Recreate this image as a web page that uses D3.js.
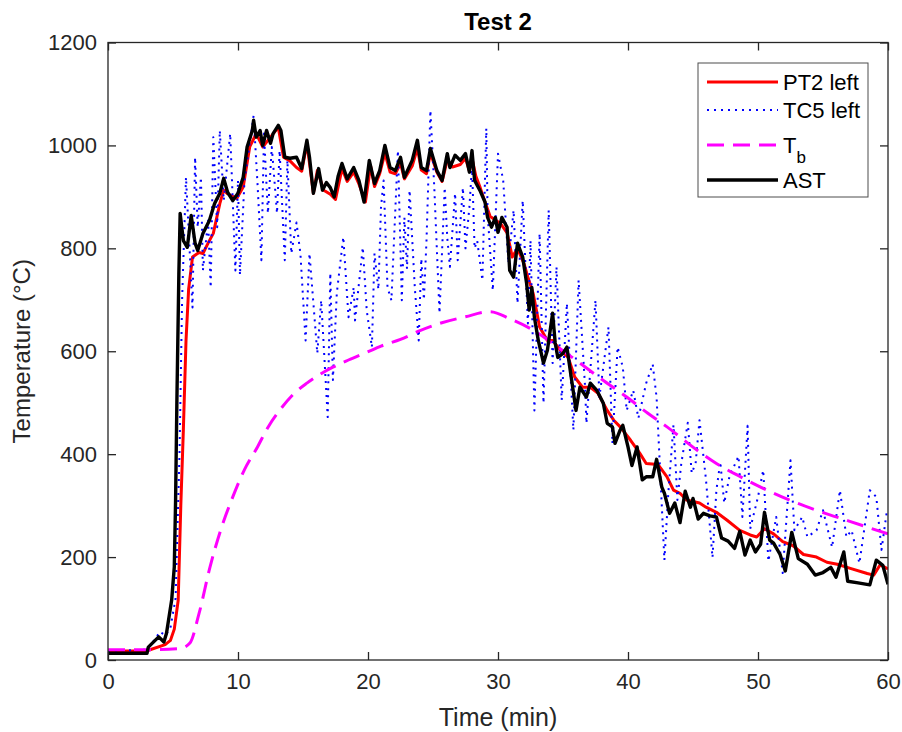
<!DOCTYPE html>
<html>
<head>
<meta charset="utf-8">
<script src="https://cdn.jsdelivr.net/npm/d3@7"></script>
<style>
  html, body { margin: 0; padding: 0; background: #fff; }
  svg { display: block; font-family: Arial, "Liberation Sans", Helvetica, sans-serif; }
</style>
</head>
<body>
<svg id="chart" width="902" height="732"></svg>
<script>
// Test 2: measured temperatures against time
const pt2Time = [0, 3, 4.4, 4.8, 5.1, 5.4, 5.6, 5.8, 6.0, 6.2, 6.5, 7.0, 7.3, 7.7, 8.1, 8.6, 8.9, 9.2, 9.9, 10.4,
  10.9, 11.4, 11.9, 12.5, 13.1, 13.5, 14.0, 14.5, 14.9, 15.3, 15.8, 16.1, 16.6, 17.1, 17.5, 18.0, 18.4, 18.9, 19.3, 19.8,
  20.2, 20.5, 20.9, 21.3, 21.7, 22.1, 22.5, 22.8, 23.4, 23.8, 24.1, 24.5, 24.8, 25.3, 25.7, 26.1, 26.5, 27.1, 27.5, 27.8,
  28.0, 28.3, 28.6, 29.0, 29.4, 29.8, 30.2, 30.7, 31.1, 31.5, 32.0, 32.3, 32.7, 33.2, 33.8, 34.2, 34.8, 35.4, 35.9, 36.5,
  37.1, 37.7, 38.4, 38.9, 39.4, 40.2, 40.9, 41.4, 42.3, 43.0, 43.5, 44.0, 44.5, 45.5, 46.0, 46.8, 47.6, 48.6, 49.4, 49.9,
  50.5, 51.2, 51.9, 52.7, 53.5, 54.5, 55.3, 56.1, 57.1, 58.4, 58.9, 59.4, 60];
const pt2Temp = [17, 18, 30, 38, 60, 116, 300, 450, 620, 720, 783, 792, 790, 810, 829, 887, 913, 906, 897, 919,
  997, 1023, 997, 1016, 1035, 977, 970, 957, 950, 1004, 907, 951, 913, 905, 895, 955, 930, 948, 925, 890,
  960, 920, 945, 985, 948, 945, 965, 935, 960, 995, 952, 945, 985, 948, 930, 972, 958, 963, 975, 950,
  975, 940, 920, 890, 862, 855, 848, 830, 783, 800, 770, 744, 713, 647, 621, 621, 602, 588, 550, 530,
  530, 518, 485, 466, 453, 427, 402, 382, 380, 356, 330, 324, 311, 305, 297, 287, 272, 252, 243, 239,
  255, 245, 230, 222, 205, 200, 190, 186, 178, 168, 165, 185, 177];

const tc5Time = [0, 3.0, 3.6, 4.0, 4.4, 4.8, 5.2, 5.5, 5.7, 6.0, 6.5, 6.7, 6.9, 7.15, 7.3, 7.7, 7.9, 8.1, 8.4, 8.6,
  8.9, 9.4, 9.8, 10.0, 10.15, 10.5, 11.2, 11.5, 11.8, 12.0, 12.3, 12.6, 13.0, 13.2, 13.6, 13.8, 14.1, 14.5, 14.8, 15.2,
  15.5, 16.1, 16.4, 16.9, 17.1, 17.3, 17.6, 18.1, 18.5, 18.9, 19.0, 19.6, 19.9, 20.3, 20.5, 20.8, 21.0, 21.2, 21.5, 21.8,
  22.3, 22.6, 22.8, 23.0, 23.2, 23.6, 23.9, 24.1, 24.3, 24.5, 24.8, 25.1, 25.5, 25.9, 26.1, 26.3, 26.7, 26.9, 27.3, 27.5,
  27.8, 28.0, 28.2, 28.4, 28.8, 29.1, 29.2, 29.6, 30.0, 30.4,
  30.8, 31.2, 31.5, 31.9, 32.3, 32.5, 32.8, 33.2, 33.5, 33.9, 34.2, 34.5, 34.9, 35.3, 35.8, 36.2, 36.7, 36.8, 37.5, 37.8,
  38.5, 38.8, 39.2, 39.6, 39.9, 40.4, 40.8, 41.4, 41.9, 42.2, 42.8, 43.1, 43.5, 43.8, 44.1, 44.6, 44.9, 45.2, 45.5, 46.0,
  46.5, 46.8, 47.1, 47.4, 47.8, 48.5, 48.8, 49.2, 49.4, 50.0, 50.4, 50.8, 51.4, 51.9, 52.5, 52.8, 53.4, 53.8, 54.5, 55.0,
  55.7, 56.3, 56.8, 57.2, 57.8, 58.6, 59.1, 59.5, 59.9, 60];
const tc5Temp = [18, 20, 40, 55, 48, 62, 120, 400, 700, 938, 685, 977, 841, 938, 757, 854, 724, 1016, 841, 1029,
  893, 1023, 757, 932, 748, 932, 1058, 926, 777, 1023, 868, 997, 868, 990, 777, 971, 790, 850, 790, 621,
  790, 596, 699, 472, 752, 544, 713, 822, 666, 724, 660, 802, 680, 608, 790, 720, 880, 932, 724, 699,
  990, 699, 860, 760, 913, 724, 621, 780, 700, 815, 1068, 918, 674, 918, 820, 764, 907, 777, 918, 800,
  880, 960, 800, 815, 738, 1033, 868, 718, 984, 932,
  771, 874, 693, 893, 654, 815, 485, 829, 499, 874, 577, 764, 505, 693, 447, 738, 530, 460, 699, 511,
  647, 421, 608, 569, 485, 524, 470, 538, 575, 510, 194, 324, 457, 311, 382, 461, 363, 382, 466, 350,
  199, 330, 385, 305, 356, 396, 278, 455, 255, 317, 369, 192, 278, 169, 388, 252, 278, 239, 252, 291,
  219, 330, 239, 252, 188, 330, 317, 214, 287, 280];

const tbTime = [0, 3, 5.5, 6.3, 7, 7.85, 8.7, 9.6, 10.5, 11.5, 12.3, 13.2, 14.2, 15.3, 16.3, 17.3, 18.5, 19.9, 21, 22.5,
  24, 25.5, 27.5, 29.4, 31, 32.7, 34.5, 36.3, 38, 39.9, 41.5, 43, 45.3, 46.8, 48.5, 50.2, 52.3, 54.5, 57, 60];
const tbTemp = [20, 20, 22, 33, 90, 181, 255, 317, 370, 414, 452, 485, 515, 538, 555, 569, 583, 598, 610, 623,
  640, 654, 667, 677, 662, 641, 610, 577, 545, 511, 480, 453, 408, 382, 358, 336, 312, 291, 270, 245];

const astTime = [0, 3.0, 3.1, 3.9, 4.3, 4.5, 4.9, 5.1, 5.2, 5.3, 5.45, 5.55, 5.8, 6.1, 6.4, 6.7, 6.9, 7.3, 7.8, 8.2,
  8.6, 8.9, 9.2, 9.6, 10.0, 10.4, 10.7, 11.1, 11.2, 11.4, 11.7, 11.9, 12.2, 12.5, 12.7, 13.1, 13.3, 13.6, 14.0, 14.5,
  14.9, 15.3, 15.5, 15.8, 16.2, 16.5, 16.8, 17.1, 17.4, 17.7, 18.0, 18.4, 18.9, 19.3, 19.7, 20.1, 20.5, 20.9, 21.3, 21.7,
  22.1, 22.5, 22.8, 23.4, 23.8, 24.1, 24.5, 24.8, 25.3, 25.7, 26.1, 26.3, 26.7, 27.1, 27.5, 27.8, 28.0, 28.2, 28.6, 29.0,
  29.2, 29.5, 29.8, 30.0, 30.3, 30.7, 30.9, 31.2, 31.5, 31.9, 32.2, 32.4, 32.6, 32.8, 33.1, 33.5, 33.8, 34.2, 34.4, 34.6,
  35.0, 35.3, 35.7, 36.0, 36.3, 36.8, 37.1, 37.6, 38.1, 38.4, 38.8, 39.0, 39.4, 39.6, 40.0, 40.3, 40.7, 41.1, 41.4, 41.9,
  42.2, 42.6, 42.8, 43.2, 43.6, 44.0, 44.4, 44.8, 45.0, 45.4, 45.8, 46.3, 46.8, 47.2, 47.7, 48.2, 48.6, 49.0, 49.4, 49.8,
  50.2, 50.5, 50.9, 51.2, 51.7, 52.1, 52.6, 53.1, 53.8, 54.4, 55.0, 55.6, 56.0, 56.6, 56.9, 57.7, 58.6, 59.1, 59.6, 60.0];
const astTemp = [13, 13, 25, 45, 35, 52, 117, 181, 311, 505, 750, 868, 815, 802, 864, 810, 796, 829, 854, 887,
  907, 936, 909, 893, 907, 938, 997, 1029, 1049, 1016, 1029, 1000, 1029, 1004, 1023, 1039, 1029, 977, 975, 977,
  955, 1010, 977, 907, 955, 913, 928, 918, 900, 940, 965, 935, 957, 932, 890, 971, 926, 951, 1000, 957,
  951, 977, 938, 971, 1010, 957, 951, 994, 951, 932, 984, 957, 981, 971, 984, 948, 990, 932, 913, 890,
  860, 841, 860, 831, 860, 841, 757, 744, 810, 783, 732, 680, 724, 666, 621, 577, 602, 674, 616, 588,
  596, 608, 538, 485, 530, 511, 538, 524, 499, 460, 453, 421, 447, 456, 414, 378, 414, 350, 356, 356,
  390, 336, 324, 285, 305, 267, 328, 297, 314, 274, 285, 280, 278, 237, 231, 217, 250, 204, 233, 210,
  225, 287, 233, 227, 205, 173, 248, 197, 186, 165, 170, 180, 161, 210, 153, 150, 146, 194, 184, 147];

const xTicks = [0, 10, 20, 30, 40, 50, 60];
const yTicks = [0, 200, 400, 600, 800, 1000, 1200];
const seriesNames = ["PT2 left", "TC5 left", "T", "AST"];

const svg = d3.select("#chart");
const plot = { left: 108, right: 888, top: 42.5, bottom: 660 };
const axisColor = "#262626";

const x = d3.scaleLinear().domain([0, 60]).range([plot.left, plot.right]);
const y = d3.scaleLinear().domain([0, 1200]).range([plot.bottom, plot.top]);

svg.append("rect").attr("width", 902).attr("height", 732).attr("fill", "#fff");

svg.append("defs").append("clipPath").attr("id", "plotClip")
  .append("rect")
  .attr("x", plot.left).attr("y", plot.top)
  .attr("width", plot.right - plot.left).attr("height", plot.bottom - plot.top);

const zip = (ts, vs) => ts.map((t, i) => [t, vs[i]]);
const line = d3.line().x(d => x(d[0])).y(d => y(d[1]));
const smooth = d3.line().x(d => x(d[0])).y(d => y(d[1])).curve(d3.curveMonotoneX);

const series = [
  { name: "PT2 left", data: zip(pt2Time, pt2Temp), gen: line, color: "#ff0000", width: 3, dash: null },
  { name: "TC5 left", data: zip(tc5Time, tc5Temp), gen: line, color: "#0000ff", width: 2, dash: "2 5" },
  { name: "Tb", data: zip(tbTime, tbTemp), gen: smooth, color: "#ff00ff", width: 3, dash: "17 9" },
  { name: "AST", data: zip(astTime, astTemp), gen: line, color: "#000000", width: 3.4, dash: null }
];

const lines = svg.append("g").attr("clip-path", "url(#plotClip)");
series.forEach(s => {
  lines.append("path")
    .datum(s.data)
    .attr("fill", "none")
    .attr("stroke", s.color)
    .attr("stroke-width", s.width)
    .attr("stroke-linejoin", "round")
    .attr("stroke-dasharray", s.dash)
    .attr("d", s.gen);
});

// Axes with inward ticks on all four sides
const tickLen = 8;
const fontTick = 22;

const gx = svg.append("g").attr("transform", `translate(0,${plot.bottom})`)
  .call(d3.axisBottom(x).tickValues(xTicks).tickSizeInner(-tickLen).tickSizeOuter(0).tickPadding(13).tickFormat(d3.format("d")));
const gxTop = svg.append("g").attr("transform", `translate(0,${plot.top})`)
  .call(d3.axisTop(x).tickValues(xTicks).tickSizeInner(-tickLen).tickSizeOuter(0).tickFormat(""));
const gy = svg.append("g").attr("transform", `translate(${plot.left},0)`)
  .call(d3.axisLeft(y).tickValues(yTicks).tickSizeInner(-tickLen).tickSizeOuter(0).tickPadding(11).tickFormat(d3.format("d")));
const gyRight = svg.append("g").attr("transform", `translate(${plot.right},0)`)
  .call(d3.axisRight(y).tickValues(yTicks).tickSizeInner(-tickLen).tickSizeOuter(0).tickFormat(""));

[gx, gxTop, gy, gyRight].forEach(g => {
  g.select(".domain").remove();
  g.selectAll(".tick line").attr("stroke", axisColor).attr("stroke-width", 1.3);
  g.selectAll(".tick text").attr("fill", axisColor).attr("font-size", fontTick)
    .attr("font-family", "Arial, 'Liberation Sans', sans-serif");
});

svg.append("rect")
  .attr("x", plot.left).attr("y", plot.top)
  .attr("width", plot.right - plot.left).attr("height", plot.bottom - plot.top)
  .attr("fill", "none").attr("stroke", axisColor).attr("stroke-width", 1.3);

// Titles
svg.append("text")
  .attr("x", (plot.left + plot.right) / 2).attr("y", 30)
  .attr("text-anchor", "middle").attr("font-size", 24).attr("font-weight", "bold")
  .attr("fill", "#000").text("Test 2");

svg.append("text")
  .attr("x", (plot.left + plot.right) / 2).attr("y", 726)
  .attr("text-anchor", "middle").attr("font-size", 25)
  .attr("fill", axisColor).text("Time (min)");

svg.append("text")
  .attr("transform", `translate(30,${(plot.top + plot.bottom) / 2}) rotate(-90)`)
  .attr("text-anchor", "middle").attr("font-size", 24)
  .attr("fill", axisColor).text("Temperature (°C)");

// Legend
const legend = svg.append("g");
legend.append("rect")
  .attr("x", 698).attr("y", 63).attr("width", 170).attr("height", 134)
  .attr("fill", "#fff").attr("stroke", "#4d4d4d").attr("stroke-width", 1);

const legendY = [82, 110, 145, 180];
series.forEach((s, i) => {
  legend.append("line")
    .attr("x1", 707).attr("x2", 778).attr("y1", legendY[i]).attr("y2", legendY[i])
    .attr("stroke", s.color).attr("stroke-width", s.width)
    .attr("stroke-dasharray", s.dash);
  const t = legend.append("text")
    .attr("x", 783).attr("y", legendY[i] + 8)
    .attr("font-size", fontTick).attr("fill", "#000");
  if (i === 2) {
    t.append("tspan").text(seriesNames[i]);
    t.append("tspan").attr("dy", 10).attr("font-size", 17).text("b");
  } else {
    t.text(seriesNames[i]);
  }
});
</script>
</body>
</html>
